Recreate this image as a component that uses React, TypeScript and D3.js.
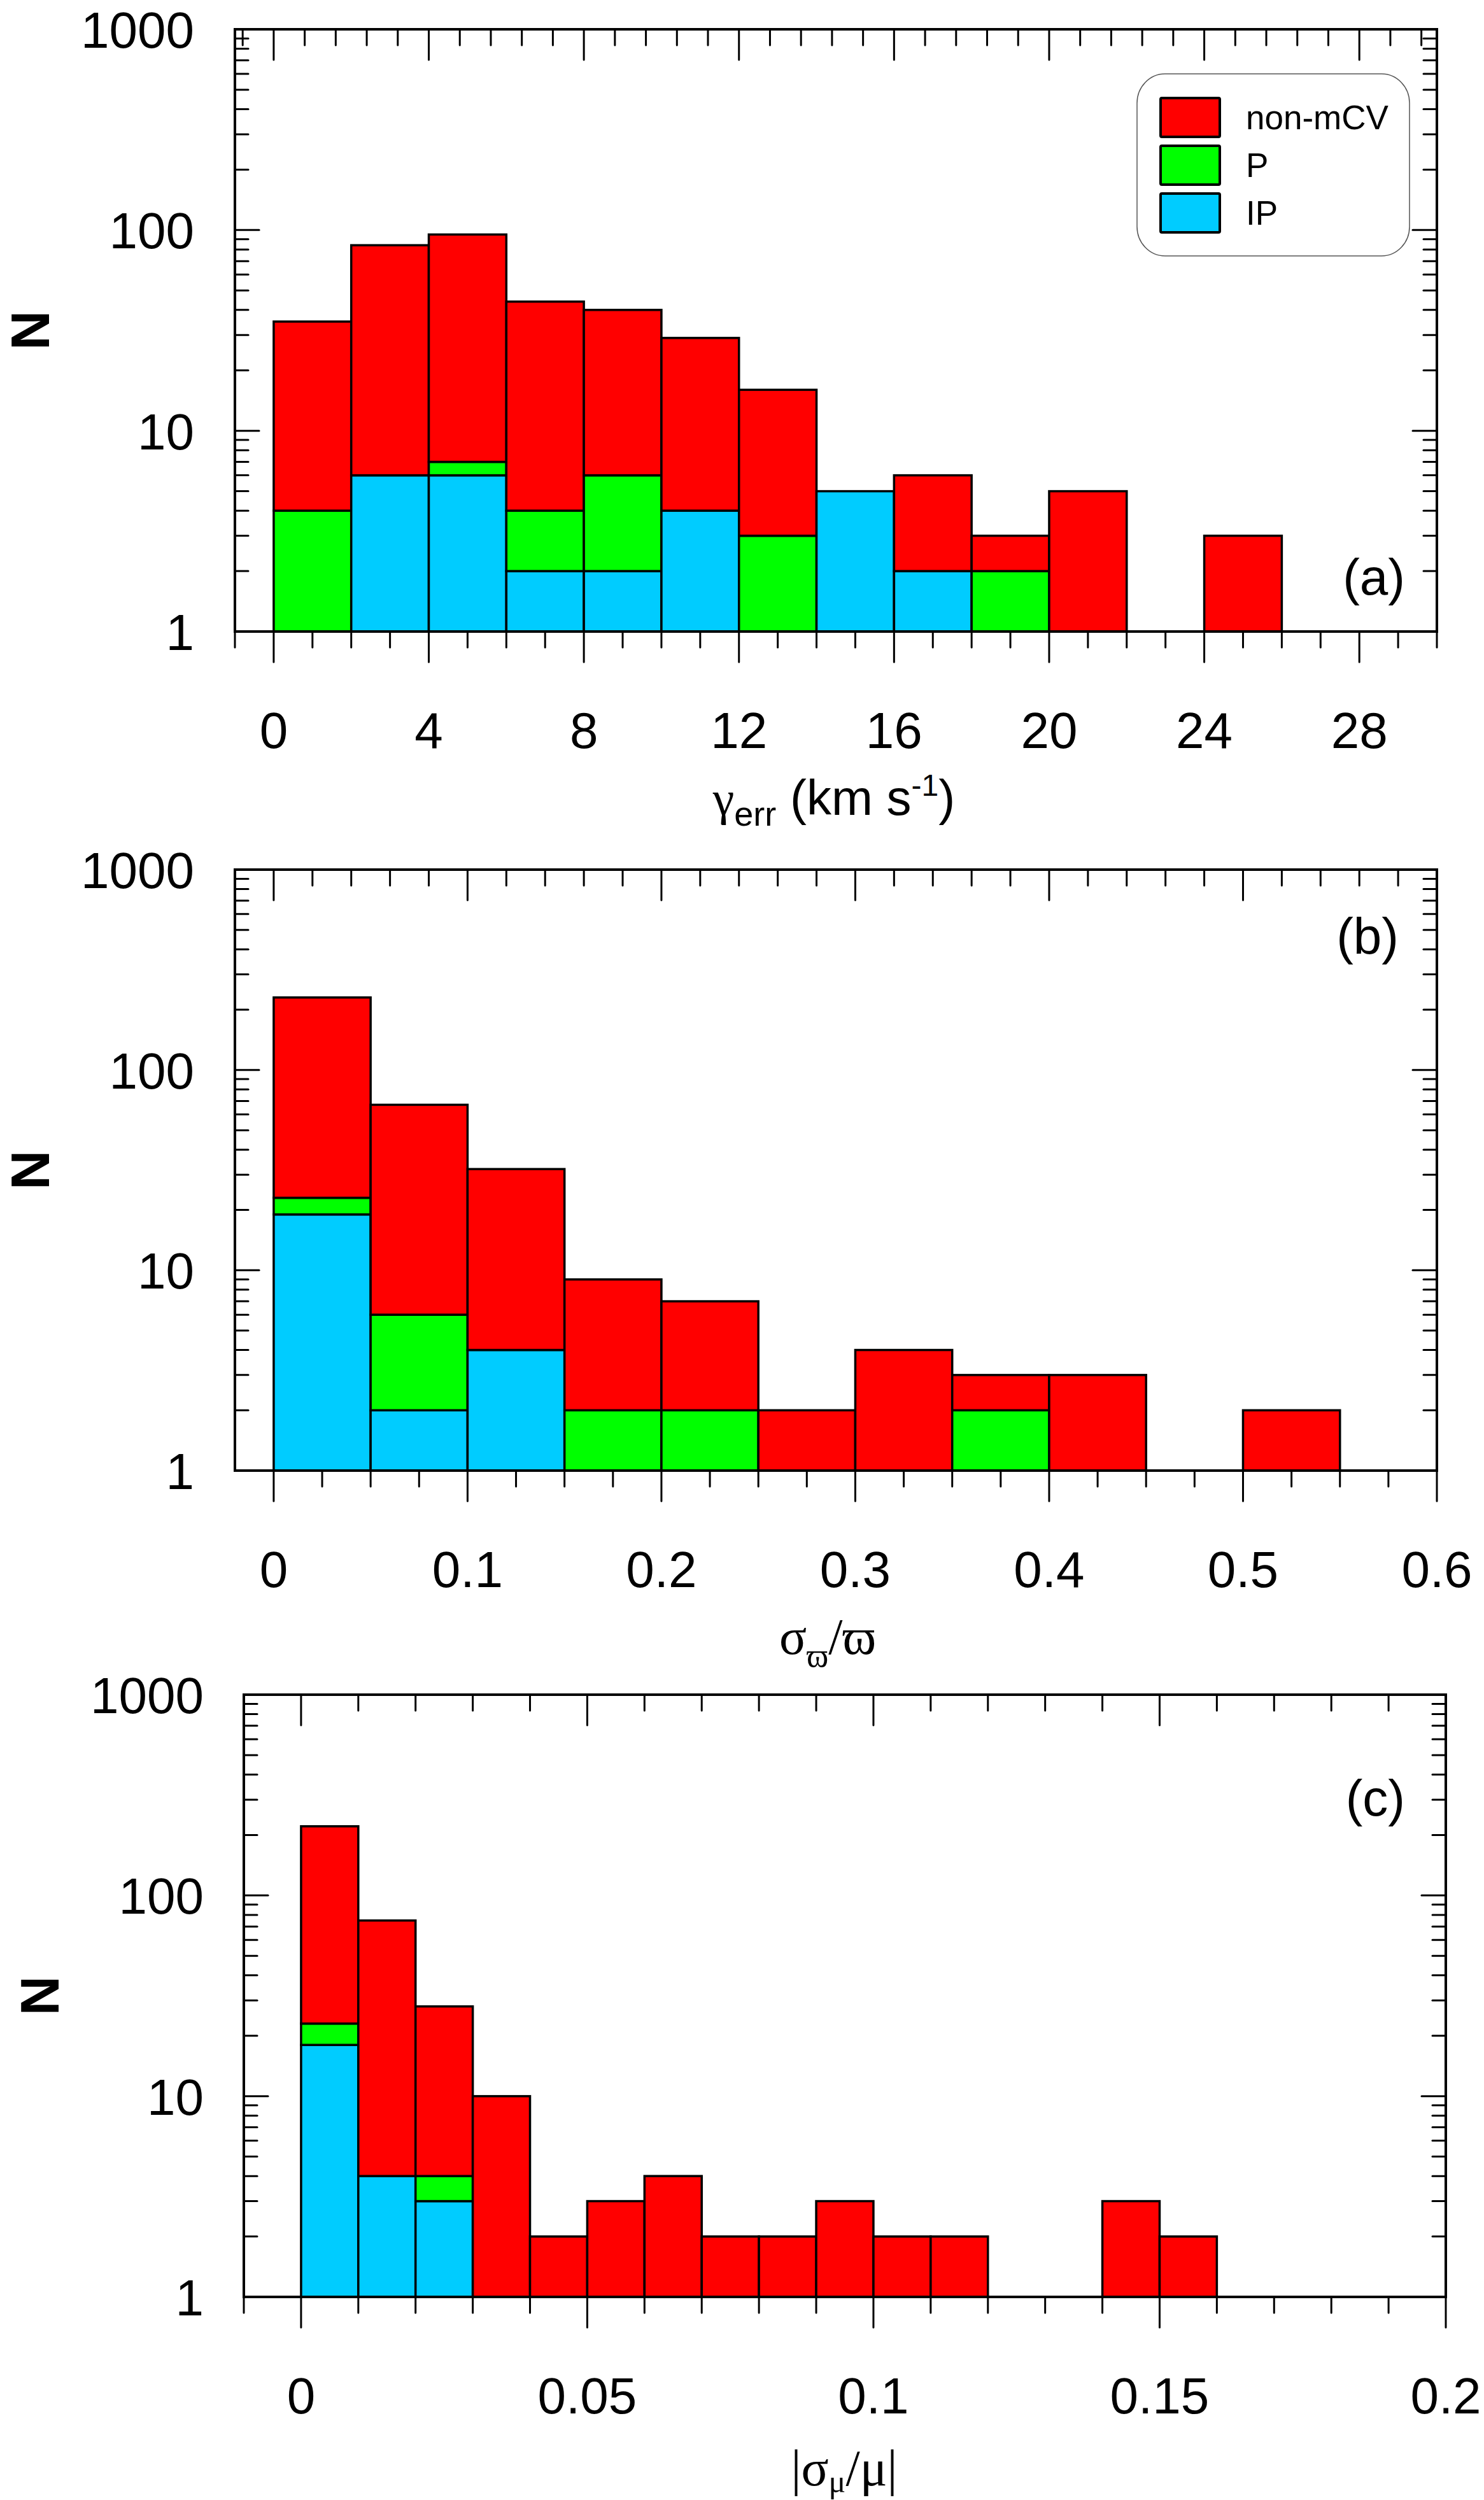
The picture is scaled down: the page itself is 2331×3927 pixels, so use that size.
import React from 'react';
import * as d3 from 'd3';

const W = 2331;
const H = 3927;

// ---------- Panel (a): gamma_err (km/s), bin width 2 ----------
const gammaBinStart = [0, 2, 4, 6, 8, 10, 12, 14, 16, 18, 20, 22, 24];
const gammaBinWidth = 2;
const gammaNonMCV = [31, 78, 88, 40, 34, 25, 13, 0, 4, 1, 5, 0, 3];
const gammaP = [4, 0, 1, 2, 4, 0, 3, 0, 0, 2, 0, 0, 0];
const gammaIP = [0, 6, 6, 2, 2, 4, 0, 5, 2, 0, 0, 0, 0];
const gammaTicks = [0, 4, 8, 12, 16, 20, 24, 28];
const gammaTickLabels = ['0', '4', '8', '12', '16', '20', '24', '28'];

// ---------- Panel (b): sigma_plx / plx, bin width 0.05 ----------
const plxBinStart = [0, 0.05, 0.1, 0.15, 0.2, 0.25, 0.3, 0.35, 0.4, 0.45, 0.5, 0.55];
const plxBinWidth = 0.05;
const plxNonMCV = [207, 61, 28, 7, 5, 2, 4, 1, 3, 0, 2, 0];
const plxP = [4, 4, 0, 2, 2, 0, 0, 2, 0, 0, 0, 0];
const plxIP = [19, 2, 4, 0, 0, 0, 0, 0, 0, 0, 0, 0];
const plxTicks = [0, 0.1, 0.2, 0.3, 0.4, 0.5, 0.6];
const plxTickLabels = ['0', '0.1', '0.2', '0.3', '0.4', '0.5', '0.6'];

// ---------- Panel (c): |sigma_mu / mu|, bin width 0.01 ----------
const pmBinStart = [0, 0.01, 0.02, 0.03, 0.04, 0.05, 0.06, 0.07, 0.08, 0.09, 0.1, 0.11, 0.12, 0.13, 0.14, 0.15];
const pmBinWidth = 0.01;
const pmNonMCV = [198, 71, 24, 10, 2, 3, 4, 2, 2, 3, 2, 2, 0, 0, 3, 2];
const pmP = [5, 0, 1, 0, 0, 0, 0, 0, 0, 0, 0, 0, 0, 0, 0, 0];
const pmIP = [18, 4, 3, 0, 0, 0, 0, 0, 0, 0, 0, 0, 0, 0, 0, 0];
const pmTicks = [0, 0.05, 0.1, 0.15, 0.2];
const pmTickLabels = ['0', '0.05', '0.1', '0.15', '0.2'];

// y axis (log)
const yTicks = [1, 10, 100, 1000];
const yTickLabels = ['1', '10', '100', '1000'];

const legendItems = ['non-mCV', 'P', 'IP'];

const RED = '#FF0000';
const GREEN = '#00FF00';
const BLUE = '#00CCFF';

const SANS = '"Liberation Sans", Arial, Helvetica, sans-serif';
const SERIF = '"Liberation Serif", "Times New Roman", "DejaVu Serif", serif';

type PanelCfg = {
  left: number; right: number; top: number; bottom: number;
  xDomain: [number, number];
  binStart: number[]; binWidth: number;
  non: number[]; p: number[]; ip: number[];
  ticks: number[]; tickLabels: string[];
  bottomMinor: [number, number, number];
  topMinor: [number, number, number];
  nX: number; yLabelRight: number;
  tag: string; tagX: number; tagY: number;
};

const panels: PanelCfg[] = [
  {
    left: 369, right: 2257, top: 46, bottom: 992, xDomain: [-1, 30],
    binStart: gammaBinStart, binWidth: gammaBinWidth, non: gammaNonMCV, p: gammaP, ip: gammaIP,
    ticks: gammaTicks, tickLabels: gammaTickLabels,
    bottomMinor: [-1, 30, 1], topMinor: [-0.8, 29.6, 0.8],
    nX: 77, yLabelRight: 305, tag: '(a)', tagX: 2207, tagY: 934,
  },
  {
    left: 369, right: 2257, top: 1366, bottom: 2310, xDomain: [-0.02, 0.6],
    binStart: plxBinStart, binWidth: plxBinWidth, non: plxNonMCV, p: plxP, ip: plxIP,
    ticks: plxTicks, tickLabels: plxTickLabels,
    bottomMinor: [0, 0.6, 0.025], topMinor: [0, 0.6, 0.02],
    nX: 77, yLabelRight: 305, tag: '(b)', tagX: 2197, tagY: 1498,
  },
  {
    left: 383, right: 2271, top: 2662, bottom: 3608, xDomain: [-0.01, 0.2],
    binStart: pmBinStart, binWidth: pmBinWidth, non: pmNonMCV, p: pmP, ip: pmIP,
    ticks: pmTicks, tickLabels: pmTickLabels,
    bottomMinor: [-0.01, 0.2, 0.01], topMinor: [0, 0.2, 0.01],
    nX: 92, yLabelRight: 320, tag: '(c)', tagX: 2207, tagY: 2852,
  },
];

function rangeInc(a: number, b: number, s: number): number[] {
  const n = Math.round((b - a) / s);
  return d3.range(n + 1).map((i) => Math.round((a + i * s) * 1e6) / 1e6);
}

function Panel({ cfg }: { cfg: PanelCfg }) {
  const x = d3.scaleLinear().domain(cfg.xDomain).range([cfg.left, cfg.right]);
  const y = d3.scaleLog().domain([1, 1000]).range([cfg.bottom, cfg.top]);
  const isMajor = (v: number) => cfg.ticks.some((t) => Math.abs(t - v) < 1e-6);

  const bottomMinor = rangeInc(...cfg.bottomMinor).filter((v) => !isMajor(v));
  const topMinor = rangeInc(...cfg.topMinor).filter((v) => !isMajor(v));
  const yMinor: number[] = [];
  [1, 10, 100].forEach((d) => d3.range(2, 10).forEach((k) => yMinor.push(k * d)));

  const segs: { x0: number; x1: number; lo: number; hi: number; color: string }[] = [];
  cfg.binStart.forEach((b, i) => {
    const ip = cfg.ip[i];
    const p = cfg.p[i];
    const non = cfg.non[i];
    const x0 = b;
    const x1 = b + cfg.binWidth;
    let base = 1;
    if (ip > 0) { segs.push({ x0, x1, lo: base, hi: ip, color: BLUE }); base = ip; }
    if (p > 0) { segs.push({ x0, x1, lo: base, hi: ip + p, color: GREEN }); base = ip + p; }
    if (non > 0) { segs.push({ x0, x1, lo: base, hi: ip + p + non, color: RED }); }
  });

  const MAJ_X = 48, MIN_X = 25, MAJ_Y = 38, MIN_Y = 21;

  return (
    <g>
      {segs.map((s, i) => (
        <rect key={i} x={x(s.x0)} y={y(s.hi)} width={x(s.x1) - x(s.x0)} height={y(s.lo) - y(s.hi)}
          fill={s.color} stroke="#000" strokeWidth={3.5} />
      ))}
      {/* bottom ticks (outward) */}
      {cfg.ticks.map((t, i) => (
        <line key={'bM' + i} x1={x(t)} x2={x(t)} y1={cfg.bottom} y2={cfg.bottom + MAJ_X} stroke="#000" strokeWidth={3} strokeLinecap="round" />
      ))}
      {bottomMinor.map((t, i) => (
        <line key={'bm' + i} x1={x(t)} x2={x(t)} y1={cfg.bottom} y2={cfg.bottom + MIN_X} stroke="#000" strokeWidth={3} strokeLinecap="round" />
      ))}
      {/* top ticks (inward) */}
      {cfg.ticks.map((t, i) => (
        <line key={'tM' + i} x1={x(t)} x2={x(t)} y1={cfg.top} y2={cfg.top + MAJ_X} stroke="#000" strokeWidth={3} strokeLinecap="round" />
      ))}
      {topMinor.map((t, i) => (
        <line key={'tm' + i} x1={x(t)} x2={x(t)} y1={cfg.top} y2={cfg.top + MIN_X} stroke="#000" strokeWidth={3} strokeLinecap="round" />
      ))}
      {/* left & right ticks (inward) */}
      {yTicks.map((t, i) => (
        <g key={'yM' + i}>
          <line x1={cfg.left} x2={cfg.left + MAJ_Y} y1={y(t)} y2={y(t)} stroke="#000" strokeWidth={3} strokeLinecap="round" />
          <line x1={cfg.right} x2={cfg.right - MAJ_Y} y1={y(t)} y2={y(t)} stroke="#000" strokeWidth={3} strokeLinecap="round" />
        </g>
      ))}
      {yMinor.map((t, i) => (
        <g key={'ym' + i}>
          <line x1={cfg.left} x2={cfg.left + MIN_Y} y1={y(t)} y2={y(t)} stroke="#000" strokeWidth={3} strokeLinecap="round" />
          <line x1={cfg.right} x2={cfg.right - MIN_Y} y1={y(t)} y2={y(t)} stroke="#000" strokeWidth={3} strokeLinecap="round" />
        </g>
      ))}
      {/* frame */}
      <rect x={cfg.left} y={cfg.top} width={cfg.right - cfg.left} height={cfg.bottom - cfg.top} fill="none" stroke="#000" strokeWidth={4} />
      {/* y tick labels */}
      {yTicks.map((t, i) => (
        <text key={'yl' + i} x={cfg.yLabelRight} y={y(t) + 29} textAnchor="end" fontSize={80} fontFamily={SANS}>{yTickLabels[i]}</text>
      ))}
      {/* x tick labels */}
      {cfg.ticks.map((t, i) => (
        <text key={'xl' + i} x={x(t)} y={cfg.bottom + 183} textAnchor="middle" fontSize={80} fontFamily={SANS}>{cfg.tickLabels[i]}</text>
      ))}
      {/* N label */}
      <text transform={`translate(${cfg.nX},${(cfg.top + cfg.bottom) / 2}) rotate(-90)`} textAnchor="middle" fontSize={86} fontWeight="bold" fontFamily={SANS}>N</text>
      {/* panel tag */}
      <text x={cfg.tagX} y={cfg.tagY} textAnchor="end" fontSize={80} fontFamily={SANS}>{cfg.tag}</text>
    </g>
  );
}

function Legend() {
  const colors = [RED, GREEN, BLUE];
  const rowTop = d3.scaleLinear().domain([0, 1]).range([154, 229]);
  return (
    <g>
      <rect x={1786} y={116} width={428} height={286} rx={44} ry={46} fill="#fff" stroke="#555" strokeWidth={1.5} />
      {legendItems.map((lab, i) => (
        <g key={lab}>
          <rect x={1823} y={rowTop(i)} width={93} height={61} rx={2} fill={colors[i]} stroke="#000" strokeWidth={4} />
          <text x={1957} y={rowTop(i) + 49} fontSize={53} fontFamily={SANS}>{lab}</text>
        </g>
      ))}
    </g>
  );
}

export default function App() {
  return (
    <svg width={W} height={H} viewBox={`0 0 ${W} ${H}`} style={{ position: 'absolute', left: 0, top: 0, background: '#fff' }}>
      <rect x={0} y={0} width={W} height={H} fill="#fff" />
      {panels.map((p, i) => <Panel key={i} cfg={p} />)}
      <Legend />
      {/* x-axis titles */}
      <text x={1310} y={1280} textAnchor="middle" fontSize={78} fontFamily={SANS} style={{ whiteSpace: 'pre' }}>
        <tspan fontFamily={SERIF} fontSize={76}>γ</tspan>
        <tspan fontSize={54} dy={17}>err</tspan>
        <tspan dy={-17}>{' (km s'}</tspan>
        <tspan fontSize={48} dy={-30}>-1</tspan>
        <tspan dy={30}>)</tspan>
      </text>
      <text x={1300} y={2598} textAnchor="middle" fontSize={80} fontFamily={SERIF}>
        <tspan>σ</tspan>
        <tspan fontSize={52} dy={20}>ϖ</tspan>
        <tspan dy={-20}>/ϖ</tspan>
      </text>
      <text x={1326} y={3904} textAnchor="middle" fontSize={80} fontFamily={SERIF}>
        <tspan>|σ</tspan>
        <tspan fontSize={50} dy={11}>μ</tspan>
        <tspan dy={-11}>/μ|</tspan>
      </text>
    </svg>
  );
}
